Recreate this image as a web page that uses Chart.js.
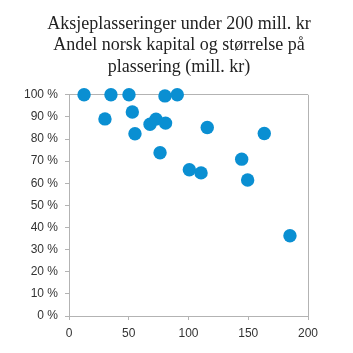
<!DOCTYPE html>
<html>
<head>
<meta charset="utf-8">
<script src="https://cdn.jsdelivr.net/npm/chart.js@4/dist/chart.umd.min.js"></script>
<style>
html,body{margin:0;padding:0;background:#fff;}
#wrap{width:353px;height:353px;}
</style>
</head>
<body>
<div id="wrap"><canvas id="c" width="353" height="353"></canvas></div>
<script>
const titleLines = ["Aksjeplasseringer under 200 mill. kr", "Andel norsk kapital og størrelse på", "plassering (mill. kr)"];
const sizeMillKr = [12.6, 35.1, 50.2, 30.1, 53.0, 55.2, 67.8, 72.8, 80.8, 80.3, 90.6, 76.2, 100.7, 110.5, 115.7, 144.5, 149.5, 163.4, 184.9];
const shareNorwegian = [100, 100, 100, 89.1, 92.2, 82.4, 86.7, 89.0, 87.2, 99.5, 100, 73.8, 66.1, 64.7, 85.2, 70.9, 61.5, 82.5, 36.3];
const xTicks = [0, 50, 100, 150, 200];
const yTicks = [0, 10, 20, 30, 40, 50, 60, 70, 80, 90, 100];

const points = sizeMillKr.map((x, i) => ({x: x, y: shareNorwegian[i]}));
const axisGray = '#b3b3b3';
const tickFont = {family: '"Liberation Sans", Arial, sans-serif', size: 12};

new Chart(document.getElementById('c'), {
  type: 'scatter',
  data: {
    datasets: [{
      data: points,
      backgroundColor: '#0a8fd2',
      borderWidth: 0,
      pointRadius: 6.7,
      pointHoverRadius: 6.7,
      clip: false
    }]
  },
  options: {
    responsive: false,
    animation: false,
    events: [],
    layout: {padding: {left: 5, right: 0, top: 0, bottom: 0}},
    plugins: {
      legend: {display: false},
      tooltip: {enabled: false},
      title: {
        display: true,
        text: titleLines,
        color: '#222',
        font: {family: '"Liberation Serif", "Times New Roman", serif', size: 18, weight: 'normal', lineHeight: 1.2},
        padding: {top: 13, bottom: 17}
      }
    },
    scales: {
      x: {
        type: 'linear',
        min: 0, max: 200,
        afterBuildTicks: s => { s.ticks = xTicks.map(v => ({value: v})); },
        afterFit: s => { s.height = 37; },
        ticks: {font: tickFont, color: '#333', padding: 6, maxRotation: 0},
        border: {display: true, color: axisGray, width: 1},
        grid: {
          drawOnChartArea: true,
          tickLength: 4,
          tickColor: axisGray,
          color: ctx => (ctx.tick && ctx.tick.value === 200) ? axisGray : 'rgba(0,0,0,0)'
        }
      },
      y: {
        type: 'linear',
        position: 'left',
        min: 0, max: 100,
        afterBuildTicks: s => { s.ticks = yTicks.map(v => ({value: v})); },
        afterFit: s => { s.width = 64; },
        ticks: {font: tickFont, color: '#333', padding: 7, callback: v => v + ' %'},
        border: {display: true, color: axisGray, width: 1},
        grid: {
          drawOnChartArea: true,
          tickLength: 4,
          tickColor: axisGray,
          color: ctx => (ctx.tick && ctx.tick.value === 100) ? axisGray : 'rgba(0,0,0,0)'
        }
      },
      yRightSpace: {
        type: 'linear',
        axis: 'y',
        position: 'right',
        min: 0, max: 100,
        afterFit: s => { s.width = 45; },
        ticks: {display: false},
        border: {display: false},
        grid: {display: false}
      }
    }
  }
});
</script>
</body>
</html>
